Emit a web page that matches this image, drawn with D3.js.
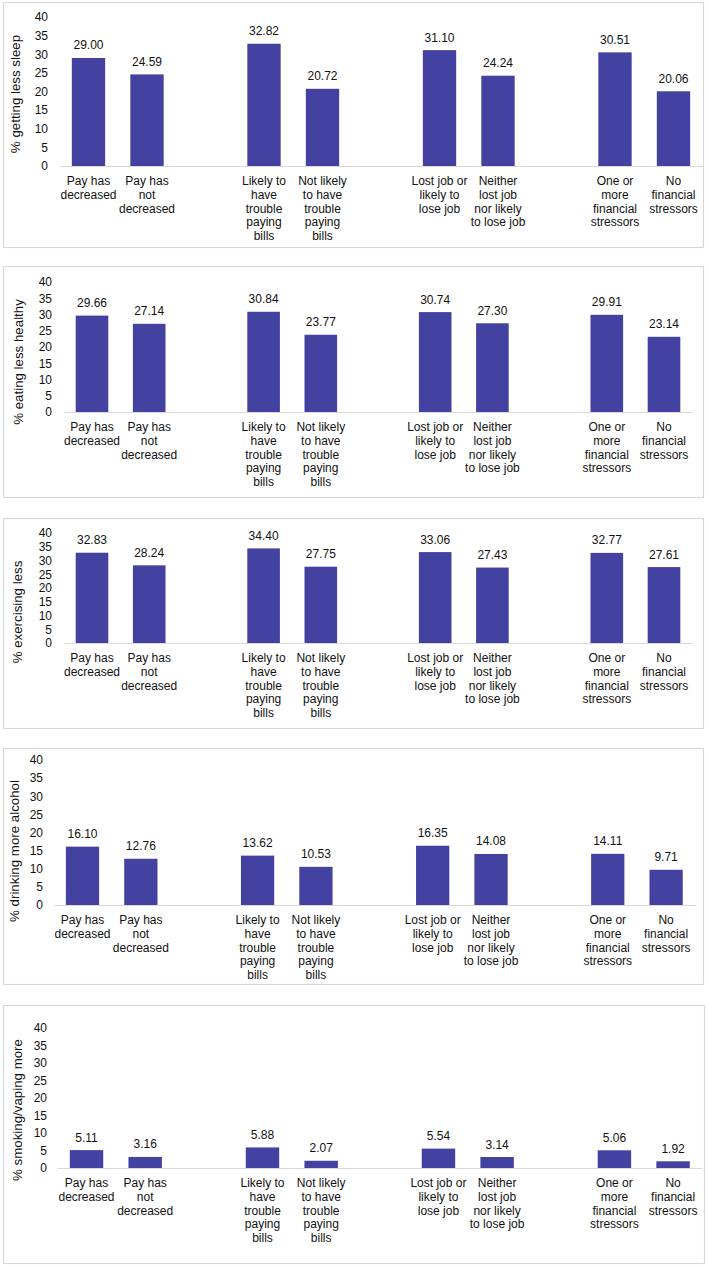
<!DOCTYPE html>
<html>
<head>
<meta charset="utf-8">
<script src="https://cdn.jsdelivr.net/npm/d3@7"></script>
<style>
  html, body { margin: 0; padding: 0; background: #fff; }
  svg { display: block; font-family: "Liberation Sans", Arial, sans-serif; }
</style>
</head>
<body>
<svg id="chart" width="709" height="1266"></svg>
<script>
// ---- Data ----
const categories = [
  "Pay has\ndecreased",
  "Pay has\nnot\ndecreased",
  "Likely to\nhave\ntrouble\npaying\nbills",
  "Not likely\nto have\ntrouble\npaying\nbills",
  "Lost job or\nlikely to\nlose job",
  "Neither\nlost job\nnor likely\nto lose job",
  "One or\nmore\nfinancial\nstressors",
  "No\nfinancial\nstressors"
];
const yTicks = [0, 5, 10, 15, 20, 25, 30, 35, 40];
const sleepValues      = [29.00, 24.59, 32.82, 20.72, 31.10, 24.24, 30.51, 20.06];
const eatingValues     = [29.66, 27.14, 30.84, 23.77, 30.74, 27.30, 29.91, 23.14];
const exercisingValues = [32.83, 28.24, 34.40, 27.75, 33.06, 27.43, 32.77, 27.61];
const drinkingValues   = [16.10, 12.76, 13.62, 10.53, 16.35, 14.08, 14.11, 9.71];
const smokingValues    = [5.11, 3.16, 5.88, 2.07, 5.54, 3.14, 5.06, 1.92];
const panelTitles = [
  "% getting less sleep",
  "% eating less healthy",
  "% exercising less",
  "% drinking more alcohol",
  "% smoking/vaping more"
];
const panelValues = [sleepValues, eatingValues, exercisingValues, drinkingValues, smokingValues];

// ---- Layout (per panel) ----
const layouts = [
  { box: [3, 2, 703, 247],    x0: 59.25, x1: 702.75, yTop: 17,   yBot: 166,  tickRight: 48, titleX: 15, titleY: 94 },
  { box: [3, 266, 703, 497],  x0: 63.4,  x1: 692.6,  yTop: 282,  yBot: 412,  tickRight: 52, titleX: 18, titleY: 362 },
  { box: [3, 518, 703, 728],  x0: 63.4,  x1: 692.6,  yTop: 533,  yBot: 643,  tickRight: 52, titleX: 17, titleY: 612 },
  { box: [3, 748, 703, 984],  x0: 53.3,  x1: 695.3,  yTop: 760,  yBot: 905,  tickRight: 43, titleX: 14, titleY: 851 },
  { box: [3, 1005, 704, 1263], x0: 57.2, x1: 702.4,  yTop: 1028, yBot: 1168, tickRight: 47, titleX: 17, titleY: 1110 }
];

const barColor = "#4342a0";
const gridGray = "#d9d9d9";
const textColor = "#111";

// slot domain: two categories per group with an empty slot between groups
const slotDomain = [];
categories.forEach((c, i) => {
  slotDomain.push("c" + i);
  if (i % 2 === 1 && i < categories.length - 1) slotDomain.push("gap" + i);
});

const svg = d3.select("#chart");

layouts.forEach((L, p) => {
  const values = panelValues[p];
  const g = svg.append("g");

  // panel border
  g.append("rect")
    .attr("x", L.box[0] + 0.5).attr("y", L.box[1] + 0.5)
    .attr("width", L.box[2] - L.box[0]).attr("height", L.box[3] - L.box[1])
    .attr("fill", "none").attr("stroke", gridGray).attr("stroke-width", 1.2);

  const x = d3.scaleBand().domain(slotDomain).range([L.x0, L.x1])
    .paddingInner(0.43).paddingOuter(0.215);
  const y = d3.scaleLinear().domain([0, 40]).range([L.yBot, L.yTop]);

  // y axis (labels only)
  const yAxis = g.append("g")
    .attr("transform", `translate(${L.x0},0)`)
    .call(d3.axisLeft(y).tickValues(yTicks).tickSize(0).tickPadding(L.x0 - L.tickRight));
  yAxis.select(".domain").remove();
  yAxis.selectAll("text")
    .attr("font-size", 12).attr("fill", textColor)
    .attr("font-family", "'Liberation Sans', Arial, sans-serif");

  // bars
  const data = categories.map((c, i) => ({ key: "c" + i, label: c, value: values[i] }));
  g.selectAll("rect.bar").data(data).enter().append("rect")
    .attr("class", "bar")
    .attr("x", d => x(d.key))
    .attr("width", x.bandwidth())
    .attr("y", d => y(d.value))
    .attr("height", d => y(0) - y(d.value))
    .attr("fill", barColor);

  // x axis line
  const xAxis = g.append("g")
    .attr("transform", `translate(0,${L.yBot})`)
    .call(d3.axisBottom(x).tickSize(0).tickSizeOuter(0).tickFormat(""));
  xAxis.select(".domain").attr("stroke", gridGray).attr("stroke-width", 1.2);
  xAxis.selectAll(".tick").remove();

  // value labels
  g.selectAll("text.val").data(data).enter().append("text")
    .attr("class", "val")
    .attr("x", d => x(d.key) + x.bandwidth() / 2)
    .attr("y", d => y(d.value) - 8.5)
    .attr("text-anchor", "middle")
    .attr("font-size", 12).attr("fill", textColor)
    .text(d => d.value.toFixed(2));

  // category labels
  const cat = g.selectAll("text.cat").data(data).enter().append("text")
    .attr("class", "cat")
    .attr("text-anchor", "middle")
    .attr("font-size", 12).attr("fill", textColor);
  cat.each(function(d) {
    const t = d3.select(this);
    d.label.split("\n").forEach((line, k) => {
      t.append("tspan")
        .attr("x", x(d.key) + x.bandwidth() / 2)
        .attr("y", L.yBot + 19 + k * 13.8)
        .text(line);
    });
  });

  // y-axis title
  g.append("text")
    .attr("transform", `translate(${L.titleX},${L.titleY}) rotate(-90)`)
    .attr("text-anchor", "middle")
    .attr("dominant-baseline", "central")
    .attr("font-size", 13.3).attr("fill", textColor)
    .text(panelTitles[p]);
});
</script>
</body>
</html>
